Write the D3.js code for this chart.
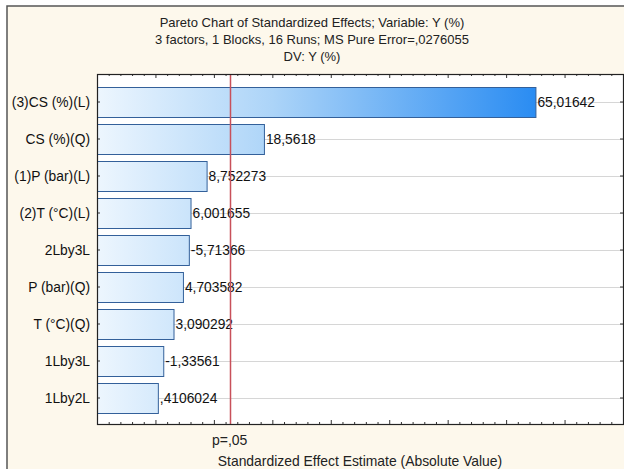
<!DOCTYPE html>
<html>
<head>
<meta charset="utf-8">
<script src="https://cdn.jsdelivr.net/npm/d3@7"></script>
<style>
  body { margin: 0; background: #fff; }
  svg { display: block; font-family: "Liberation Sans", Arial, sans-serif; }
</style>
</head>
<body>
<svg id="chart" width="624" height="469"></svg>
<script>
// data
const factorLabels = ["(3)CS (%)(L)", "CS (%)(Q)", "(1)P (bar)(L)", "(2)T (°C)(L)", "2Lby3L",
    "P (bar)(Q)", "T (°C)(Q)", "1Lby3L", "1Lby2L"];
const effectValues = [65.01642, 18.5618, 8.752273, 6.001655, -5.71366, 4.703582, 3.090292, -1.33561, 0.4106024];
const effectLabels = ["65,01642", "18,5618", "8,752273", "6,001655", "-5,71366", "4,703582", "3,090292", "-1,33561", ",4106024"];
const pCritical = 12.706;
const pLabel = "p=,05";
const xDomain = [-10, 80];
const titleLines = [
    "Pareto Chart of Standardized Effects; Variable: Y (%)",
    "3 factors, 1 Blocks, 16 Runs; MS Pure Error=,0276055",
    "DV: Y (%)"
];
const xTitle = "Standardized Effect Estimate (Absolute Value)";

let svg = d3.select("#chart");

let area = { left: 97, right: 623, top: 74, bottom: 424 };

// cream frame
svg.append("rect")
    .attr("x", 7).attr("y", 6)
    .attr("width", 640).attr("height", 480)
    .attr("fill", "#fdf8ec")
    .attr("stroke", "#555")
    .attr("stroke-width", 1.5);

// titles
svg.selectAll(".title")
    .data(titleLines)
    .enter()
    .append("text")
    .attr("x", 312)
    .attr("y", (d, i) => 27 + i * 17)
    .attr("text-anchor", "middle")
    .style("font-size", "13px")
    .style("fill", "#222")
    .text(d => d);

// plot area
svg.append("rect")
    .attr("x", area.left).attr("y", area.top)
    .attr("width", area.right - area.left).attr("height", area.bottom - area.top)
    .attr("fill", "#fff");

let scX = d3.scaleLinear().domain(xDomain).range([area.left, area.right]);
let scY = d3.scaleBand()
    .domain(factorLabels)
    .range([83.5, 416.5])
    .paddingInner(0.2)
    .paddingOuter(0.1);

// gradient shared by all bars
let grad = svg.append("defs").append("linearGradient")
    .attr("id", "barGrad")
    .attr("gradientUnits", "userSpaceOnUse")
    .attr("x1", area.left).attr("x2", scX(effectValues[0]))
    .attr("y1", 0).attr("y2", 0);
grad.append("stop").attr("offset", "0%").attr("stop-color", "#edf6fe");
grad.append("stop").attr("offset", "40%").attr("stop-color", "#acd4f8");
grad.append("stop").attr("offset", "100%").attr("stop-color", "#2a8cf2");

// horizontal grid lines at bar centres
svg.selectAll(".grid")
    .data(factorLabels)
    .enter()
    .append("line")
    .attr("x1", area.left).attr("x2", area.right)
    .attr("y1", d => Math.round(scY(d) + scY.bandwidth() / 2) + 0.5)
    .attr("y2", d => Math.round(scY(d) + scY.bandwidth() / 2) + 0.5)
    .attr("stroke", "#d6d6d6");

// bars
let rows = factorLabels.map((f, i) => ({ label: f, value: Math.abs(effectValues[i]), text: effectLabels[i] }));

svg.selectAll(".bar")
    .data(rows)
    .enter()
    .append("rect")
    .attr("x", area.left + 0.5)
    .attr("y", d => Math.round(scY(d.label)) + 0.5)
    .attr("width", d => scX(d.value) - area.left)
    .attr("height", Math.round(scY.bandwidth()))
    .attr("fill", "url(#barGrad)")
    .attr("stroke", "#33609a")
    .attr("stroke-width", 1);

// value labels
svg.selectAll(".val")
    .data(rows)
    .enter()
    .append("text")
    .attr("x", d => scX(d.value) + 2)
    .attr("y", d => scY(d.label) + scY.bandwidth() / 2)
    .attr("dy", "0.35em")
    .style("font-size", "13.8px")
    .style("fill", "#111")
    .text(d => d.text);

// critical value line
svg.append("line")
    .attr("x1", Math.round(scX(pCritical)) + 0.5)
    .attr("x2", Math.round(scX(pCritical)) + 0.5)
    .attr("y1", area.top).attr("y2", area.bottom)
    .attr("stroke", "#c8505a")
    .attr("stroke-width", 1.5);

// axes: ticks pointing inward
let majorTicks = d3.range(0, 80, 10);
let minorTicks = d3.range(-8, 80, 2).filter(v => v % 10 !== 0);

let axTop = svg.append("g").attr("transform", `translate(0,${area.top})`);
axTop.call(d3.axisBottom(scX).tickValues(majorTicks).tickSize(4).tickFormat(""));
axTop.append("g").call(d3.axisBottom(scX).tickValues(minorTicks).tickSize(2).tickFormat(""));

let axBottom = svg.append("g").attr("transform", `translate(0,${area.bottom})`);
axBottom.call(d3.axisTop(scX).tickValues(majorTicks).tickSize(4).tickFormat(""));
axBottom.append("g").call(d3.axisTop(scX).tickValues(minorTicks).tickSize(2).tickFormat(""));

let axLeft = svg.append("g").attr("transform", `translate(${area.left},0)`);
axLeft.call(d3.axisRight(scY).tickSize(3).tickFormat(""));

let axRight = svg.append("g").attr("transform", `translate(${area.right},0)`);
axRight.call(d3.axisLeft(scY).tickSize(3).tickFormat(""));

svg.selectAll(".domain").remove();
svg.selectAll(".tick line").attr("stroke", "#333");

// plot border
svg.append("rect")
    .attr("x", area.left + 0.5).attr("y", area.top + 0.5)
    .attr("width", area.right - area.left).attr("height", area.bottom - area.top)
    .attr("fill", "none")
    .attr("stroke", "#222")
    .attr("stroke-width", 1.2);

// category labels
svg.selectAll(".cat")
    .data(factorLabels)
    .enter()
    .append("text")
    .attr("x", 90)
    .attr("y", d => scY(d) + scY.bandwidth() / 2)
    .attr("dy", "0.35em")
    .attr("text-anchor", "end")
    .style("font-size", "13.8px")
    .style("fill", "#111")
    .text(d => d);

// x labels
svg.append("text")
    .attr("x", scX(pCritical))
    .attr("y", 445)
    .attr("text-anchor", "middle")
    .style("font-size", "14px")
    .style("fill", "#222")
    .text(pLabel);

svg.append("text")
    .attr("x", (area.left + area.right) / 2)
    .attr("y", 466)
    .attr("text-anchor", "middle")
    .style("font-size", "13.9px")
    .style("fill", "#222")
    .text(xTitle);
</script>
</body>
</html>
